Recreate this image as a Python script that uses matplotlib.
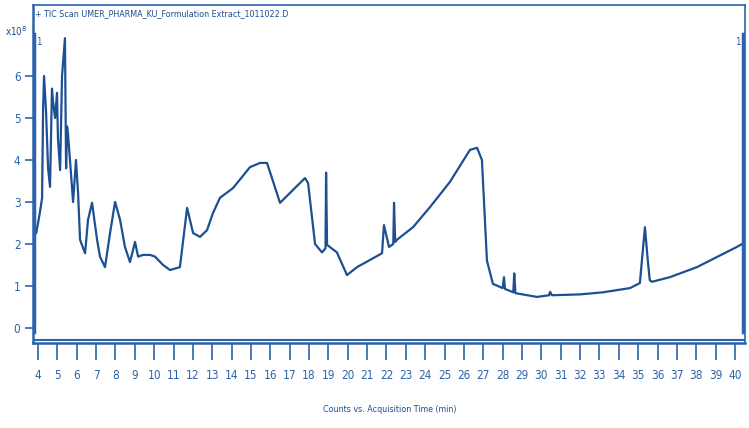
import matplotlib
matplotlib.use('Agg')
import matplotlib.pyplot as plt

# TIC trace (time in min, counts in 1e8)
time_min = [3.74, 3.78, 3.82, 3.90, 4.00, 4.10, 4.21, 4.26, 4.31, 4.41, 4.52, 4.62,
            4.72, 4.77, 4.88, 4.98, 5.03, 5.14, 5.24, 5.39, 5.45, 5.50, 5.55, 5.65,
            5.81, 5.96, 6.07, 6.17, 6.43, 6.58, 6.79, 7.05, 7.20, 7.46, 7.72, 7.98,
            8.24, 8.49, 8.75, 9.01, 9.17, 9.42, 9.79, 10.04, 10.46, 10.82, 11.33, 11.70,
            12.01, 12.37, 12.73, 13.04, 13.40, 14.07, 14.95, 15.47, 15.83, 16.50, 17.79,
            17.95, 18.31, 18.67, 18.85, 18.88, 18.93, 19.44, 19.96, 20.48, 21.15, 21.77,
            21.87, 22.13, 22.35, 22.39, 22.45, 22.54, 23.37, 24.25, 25.28, 26.31, 26.68,
            26.93, 27.19, 27.50, 28.00, 28.07, 28.12, 28.55, 28.60, 28.66, 29.77, 30.40,
            30.45, 30.55, 32.00, 33.18, 34.58, 35.09, 35.35, 35.50, 35.60, 35.71, 36.64,
            38.04, 39.07, 40.10, 40.45]
counts_e8 = [0.0, 0.2, 2.3, 2.25, 2.5, 2.76, 3.1, 5.2, 6.0, 5.2, 3.8, 3.36,
             5.7, 5.4, 5.0, 5.6, 4.5, 3.76, 6.0, 6.9, 3.8, 4.8, 4.6, 4.0,
             3.0, 4.0, 3.2, 2.1, 1.78, 2.57, 2.98, 2.1, 1.7, 1.45, 2.26, 3.0,
             2.57, 1.93, 1.57, 2.05, 1.7, 1.74, 1.74, 1.7, 1.5, 1.38, 1.45, 2.86,
             2.26, 2.17, 2.33, 2.74, 3.1, 3.33, 3.83, 3.93, 3.93, 2.98, 3.57,
             3.45, 2.0, 1.8, 1.9, 3.7, 1.98, 1.8, 1.26, 1.45, 1.62, 1.78,
             2.45, 1.93, 2.0, 2.98, 2.05, 2.1, 2.4, 2.88, 3.48, 4.24, 4.29,
             4.0, 1.6, 1.05, 0.95, 1.21, 0.93, 0.85, 1.3, 0.83, 0.74, 0.78,
             0.86, 0.78, 0.80, 0.85, 0.95, 1.07, 2.4, 1.6, 1.14, 1.1, 1.21,
             1.45, 1.69, 1.93, 2.02]

x_ticks = list(range(4, 41))
y_ticks = list(range(0, 7))

title = '+ TIC Scan UMER_PHARMA_KU_Formulation Extract_1011022.D'
xlabel = 'Counts vs. Acquisition Time (min)'

line_col = '#1c4f93'
axis_col = '#2c62ab'
narrow = dict(family=['DejaVu Sans'], stretch='condensed')

fig = plt.figure(figsize=(7.49, 4.28), dpi=100)
ax = fig.add_axes([33 / 749, 85 / 428, 712 / 749, 338 / 428])

ax.plot(time_min, counts_e8, color=line_col, lw=1.6)

# range markers at both ends of the trace
ax.plot([3.78, 3.78], [-0.1, 7.0], color=axis_col, lw=2.5)
ax.plot([40.42, 40.42], [-0.1, 7.0], color=axis_col, lw=2.5)
ax.text(3.9, 6.8, '1', color=axis_col, fontsize=7, va='center', **narrow)
ax.text(40.3, 6.8, '1', color=axis_col, fontsize=7, va='center', ha='right', **narrow)

# double bottom line
ax.axhline(-0.285, color=axis_col, lw=1.5)

ax.set_xlim(3.74, 40.52)
ax.set_ylim(-0.357, 7.69)
ax.set_xticks(x_ticks)
ax.set_yticks(y_ticks)
ax.set_xticklabels([str(t) for t in x_ticks], fontsize=8.5, color=axis_col, **narrow)
ax.set_yticklabels([str(t) for t in y_ticks], fontsize=8.5, color=axis_col, **narrow)
ax.tick_params(axis='x', direction='out', length=12, width=1.2, color=axis_col, pad=7)
ax.tick_params(axis='y', direction='out', length=6, width=1.2, color=axis_col, pad=3)

for name, sp in ax.spines.items():
    sp.set_color(axis_col)
    sp.set_linewidth(1.8 if name in ('left', 'bottom') else 1.2)

ax.text(0.003, 0.975, title, transform=ax.transAxes, fontsize=6.4,
        color=line_col, va='center', ha='left', **narrow)
fig.text(5 / 749, 1 - 31 / 428, r'x10$^{8}$', fontsize=7, color=line_col,
         va='center', ha='left', **narrow)
fig.text(390 / 749, 1 - 410 / 428, xlabel, fontsize=6.4, color=line_col,
         va='center', ha='center', **narrow)

fig.savefig('out.png', dpi=100)
